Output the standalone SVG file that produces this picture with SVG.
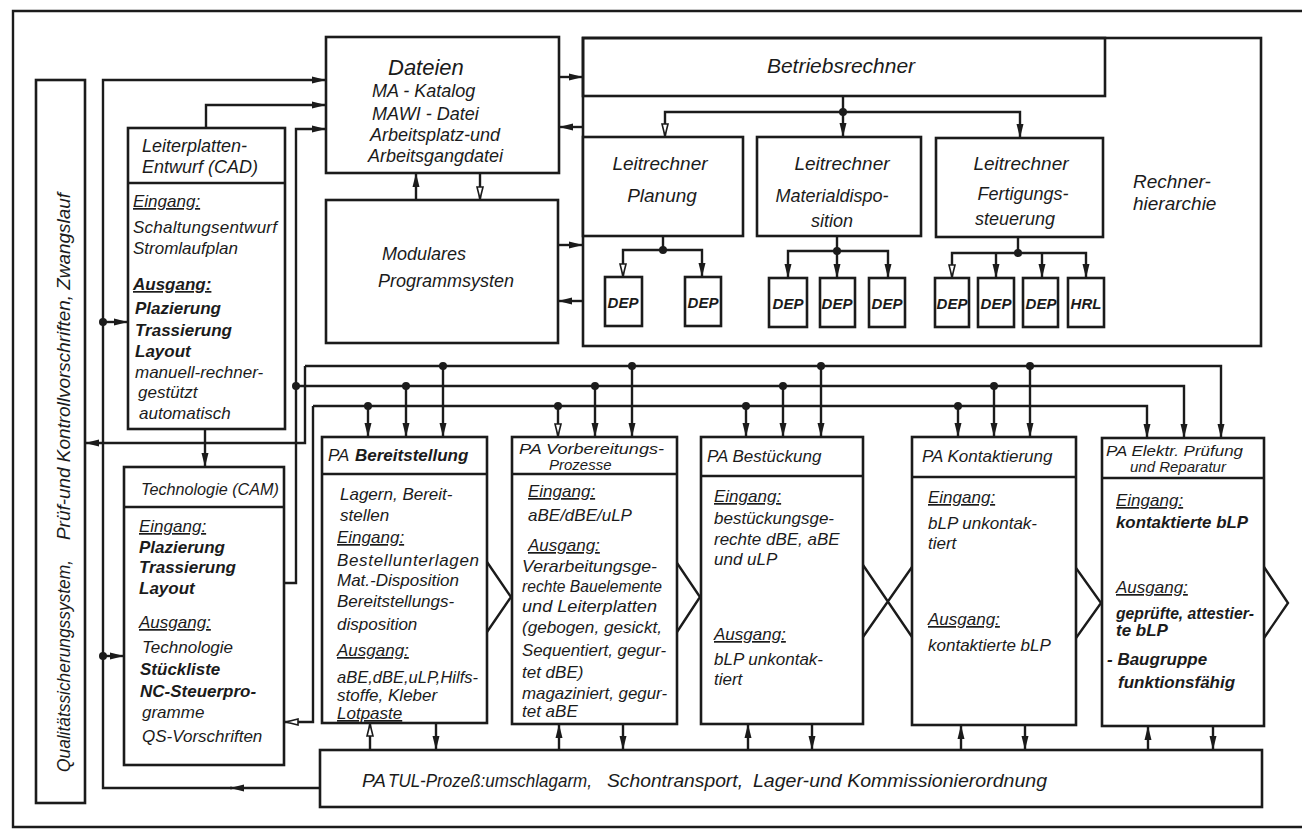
<svg xmlns="http://www.w3.org/2000/svg" width="1302" height="831" viewBox="0 0 1302 831">
<style>
.ln{fill:none;stroke:#1b1b1b;stroke-width:2.4}
.bx{fill:#fff;stroke:#1b1b1b;stroke-width:2.6}
.dv{stroke:#1b1b1b;stroke-width:2.4}
.dot{fill:#1b1b1b}
text{font-family:"Liberation Sans",Arial,sans-serif;font-style:italic;font-size:17px;fill:#1b1b1b}
.u{text-decoration:underline}
.b{font-weight:bold}
.h15{font-size:15px}
.h18{font-size:18px}
.h19{font-size:19px}
.h21{font-size:21px}
.h22{font-size:22px}
.dep{font-size:15px;font-weight:bold;text-anchor:middle}
.c{text-anchor:middle}
</style>
<defs>
<marker id="a" viewBox="0 0 14 8" refX="14" refY="4" markerWidth="14" markerHeight="8" markerUnits="userSpaceOnUse" orient="auto"><path d="M0,0.5 L14,4 L0,7.5 z" fill="#1b1b1b"/></marker>
<marker id="ah" viewBox="0 0 14 8" refX="14" refY="4" markerWidth="14" markerHeight="8" markerUnits="userSpaceOnUse" orient="auto"><path d="M1,1 L13,4 L1,7 z" fill="#fff" stroke="#1b1b1b" stroke-width="1.6"/></marker>
</defs>
<rect width="1302" height="831" fill="#fff"/>
<!-- outer frame (right edge runs off the sheet) -->
<path class="ln" d="M1302,11 H13 V827 H1302"/>

<g id="connectors">
<!-- left loop: TUL back to Dateien, feeding CAD and CAM -->
<path class="ln" d="M320,788 H230" marker-end="url(#a)"/>
<path class="ln" d="M232,788 H103 V80 H326" marker-end="url(#a)"/>
<path class="ln" d="M103,322 H128" marker-end="url(#a)"/>
<path class="ln" d="M103,656 H124" marker-end="url(#a)"/>
<circle class="dot" cx="103" cy="322" r="4"/>
<circle class="dot" cx="103" cy="656" r="4"/>
<path class="ln" d="M206,128 V105 H326" marker-end="url(#a)"/>
<path class="ln" d="M285,583 H296 V129 H326" marker-end="url(#a)"/>
<path class="ln" d="M205,429 V467" marker-end="url(#a)"/>
<!-- three process buses -->
<path class="ln" d="M305,366 H1221 V438" marker-end="url(#a)"/>
<path class="ln" d="M305,366 V443 H85" marker-end="url(#a)"/>
<path class="ln" d="M296,386 H1184 V438" marker-end="url(#a)"/>
<circle class="dot" cx="296" cy="386" r="4"/>
<path class="ln" d="M313,406 H1147 V438" marker-end="url(#a)"/>
<path class="ln" d="M313,406 V722 H285" marker-end="url(#ah)"/>
<!-- bus drops into the PA boxes -->
<path class="ln" d="M368,406 V437" marker-end="url(#a)"/>
<path class="ln" d="M406,386 V437" marker-end="url(#a)"/>
<path class="ln" d="M443,366 V437" marker-end="url(#a)"/>
<path class="ln" d="M558,406 V437" marker-end="url(#ah)"/>
<path class="ln" d="M595,386 V437" marker-end="url(#a)"/>
<path class="ln" d="M632,366 V437" marker-end="url(#a)"/>
<path class="ln" d="M746,406 V437" marker-end="url(#a)"/>
<path class="ln" d="M783,386 V437" marker-end="url(#a)"/>
<path class="ln" d="M821,366 V437" marker-end="url(#a)"/>
<path class="ln" d="M958,406 V437" marker-end="url(#a)"/>
<path class="ln" d="M994,386 V437" marker-end="url(#a)"/>
<path class="ln" d="M1030,366 V437" marker-end="url(#a)"/>
<g class="dot">
<circle cx="368" cy="406" r="4"/><circle cx="406" cy="386" r="4"/><circle cx="443" cy="366" r="4"/>
<circle cx="558" cy="406" r="4"/><circle cx="595" cy="386" r="4"/><circle cx="632" cy="366" r="4"/>
<circle cx="746" cy="406" r="4"/><circle cx="783" cy="386" r="4"/><circle cx="821" cy="366" r="4"/>
<circle cx="958" cy="406" r="4"/><circle cx="994" cy="386" r="4"/><circle cx="1030" cy="366" r="4"/>
</g>
<!-- TUL exchange arrows -->
<path class="ln" d="M370,750 V723" marker-end="url(#ah)"/>
<path class="ln" d="M436,723 V750" marker-end="url(#a)"/>
<path class="ln" d="M559,750 V724" marker-end="url(#a)"/>
<path class="ln" d="M623,724 V750" marker-end="url(#a)"/>
<path class="ln" d="M748,750 V724" marker-end="url(#a)"/>
<path class="ln" d="M812,724 V750" marker-end="url(#a)"/>
<path class="ln" d="M961,750 V725" marker-end="url(#a)"/>
<path class="ln" d="M1025,725 V750" marker-end="url(#a)"/>
<path class="ln" d="M1148,750 V726" marker-end="url(#a)"/>
<path class="ln" d="M1213,726 V750" marker-end="url(#a)"/>
<!-- files / program system / computer hierarchy -->
<path class="ln" d="M559,77 H583" marker-end="url(#a)"/>
<path class="ln" d="M583,127 H559" marker-end="url(#a)"/>
<path class="ln" d="M558,245 H583" marker-end="url(#a)"/>
<path class="ln" d="M583,301 H558" marker-end="url(#a)"/>
<path class="ln" d="M416,200 V173" marker-end="url(#a)"/>
<path class="ln" d="M480,173 V200" marker-end="url(#ah)"/>
<path class="ln" d="M843,96 V112"/>
<path class="ln" d="M843,112 H665 V137" marker-end="url(#ah)"/>
<path class="ln" d="M843,112 V137" marker-end="url(#a)"/>
<path class="ln" d="M843,112 H1020 V138" marker-end="url(#a)"/>
<circle class="dot" cx="843" cy="112" r="4"/>
<path class="ln" d="M663,236 V250"/>
<path class="ln" d="M663,250 H623 V277" marker-end="url(#ah)"/>
<path class="ln" d="M663,250 H702 V277" marker-end="url(#a)"/>
<circle class="dot" cx="663" cy="250" r="4"/>
<path class="ln" d="M837,236 V251"/>
<path class="ln" d="M837,251 H788 V278" marker-end="url(#a)"/>
<path class="ln" d="M837,251 V278" marker-end="url(#a)"/>
<path class="ln" d="M837,251 H888 V278" marker-end="url(#a)"/>
<circle class="dot" cx="837" cy="251" r="4"/>
<path class="ln" d="M1018,237 V253"/>
<path class="ln" d="M1018,253 H952 V278" marker-end="url(#ah)"/>
<path class="ln" d="M996,253 V278" marker-end="url(#a)"/>
<path class="ln" d="M1042,253 V278" marker-end="url(#a)"/>
<path class="ln" d="M1018,253 H1086 V278" marker-end="url(#a)"/>
<circle class="dot" cx="1018" cy="253" r="4"/>
<!-- flow chevrons between the process stages -->
<polyline class="ln" points="487,562 511,597 487,632"/>
<polyline class="ln" points="677,563 700,597 677,632"/>
<path class="ln" d="M863,565 L912,637 M912,567 L863,637"/>
<polyline class="ln" points="1076,568 1101,603 1076,638"/>
<polyline class="ln" points="1264,567 1288,603 1264,638"/>
</g>

<g id="qs">
<rect class="bx" x="36" y="80" width="49" height="723"/>
<text class="h18" transform="rotate(-90)" x="-772" y="70" textLength="212" lengthAdjust="spacingAndGlyphs">Qualitätssicherungssystem,</text>
<text class="h18" transform="rotate(-90)" x="-540" y="70" textLength="347" lengthAdjust="spacingAndGlyphs">Prüf-und Kontrollvorschriften, Zwangslauf</text>
</g>

<g id="cad">
<rect class="bx" x="128" y="128" width="157" height="301"/>
<line class="dv" x1="128" y1="183" x2="285" y2="183"/>
<text class="h18" x="142" y="152">Leiterplatten-</text>
<text class="h18" x="142" y="173">Entwurf (CAD)</text>
<text class="u" x="133" y="207">Eingang:</text>
<text x="133" y="233" textLength="144">Schaltungsentwurf</text>
<text x="133" y="254">Stromlaufplan</text>
<text class="u b" x="133" y="290">Ausgang:</text>
<text class="b" x="135" y="314">Plazierung</text>
<text class="b" x="135" y="336">Trassierung</text>
<text class="b" x="135" y="357">Layout</text>
<text x="135" y="378">manuell-rechner-</text>
<text x="138" y="398">gestützt</text>
<text x="139" y="419">automatisch</text>
</g>

<g id="cam">
<rect class="bx" x="124" y="467" width="160" height="298"/>
<line class="dv" x1="124" y1="507" x2="284" y2="507"/>
<text x="141" y="495" textLength="138" lengthAdjust="spacingAndGlyphs">Technologie (CAM)</text>
<text class="u" x="139" y="532">Eingang:</text>
<text class="b" x="139" y="553">Plazierung</text>
<text class="b" x="139" y="573">Trassierung</text>
<text class="b" x="139" y="594">Layout</text>
<text class="u" x="139" y="628">Ausgang:</text>
<text x="142" y="653">Technologie</text>
<text class="b" x="140" y="675">Stückliste</text>
<text class="b" x="140" y="697">NC-Steuerpro-</text>
<text x="142" y="718">gramme</text>
<text x="142" y="742">QS-Vorschriften</text>
</g>

<g id="dateien">
<rect class="bx" x="326" y="37" width="233" height="136"/>
<text class="h22" x="388" y="75">Dateien</text>
<text class="h18" x="372" y="97">MA - Katalog</text>
<text class="h18" x="372" y="120">MAWI - Datei</text>
<text class="h18" x="370" y="141">Arbeitsplatz-und</text>
<text class="h18" x="368" y="162">Arbeitsgangdatei</text>
</g>

<g id="modulares">
<rect class="bx" x="326" y="200" width="232" height="143"/>
<text class="h18" x="382" y="260">Modulares</text>
<text class="h18" x="378" y="287">Programmsysten</text>
</g>

<g id="rechnerhierarchie">
<rect class="ln" x="583" y="38" width="678" height="308" style="stroke-width:2.6"/>
<text class="h19" x="1133" y="188">Rechner-</text>
<text class="h19" x="1133" y="210">hierarchie</text>
</g>

<g id="betriebsrechner">
<rect class="ln" x="583" y="38" width="522" height="58" style="stroke-width:2.6"/>
<text class="h21 c" x="841" y="73">Betriebsrechner</text>
</g>

<g id="lr-planung">
<rect class="bx" x="583" y="137" width="160" height="99"/>
<text class="h19 c" x="660" y="170">Leitrechner</text>
<text class="h19 c" x="662" y="202">Planung</text>
</g>

<g id="lr-material">
<rect class="bx" x="757" y="137" width="164" height="99"/>
<text class="h19 c" x="842" y="170">Leitrechner</text>
<text class="h18 c" x="832" y="202">Materialdispo-</text>
<text class="h18 c" x="832" y="227">sition</text>
</g>

<g id="lr-fertigung">
<rect class="bx" x="936" y="138" width="167" height="99"/>
<text class="h19 c" x="1021" y="170">Leitrechner</text>
<text class="h18 c" x="1023" y="200">Fertigungs-</text>
<text class="h18 c" x="1015" y="225">steuerung</text>
</g>

<g id="dep-terminals">
<g id="dep-p1"><rect class="bx" x="605" y="277" width="37" height="49"/><text class="dep" x="623" y="308">DEP</text></g>
<g id="dep-p2"><rect class="bx" x="685" y="277" width="36" height="49"/><text class="dep" x="703" y="308">DEP</text></g>
<g id="dep-m1"><rect class="bx" x="769" y="278" width="38" height="49"/><text class="dep" x="788" y="309">DEP</text></g>
<g id="dep-m2"><rect class="bx" x="820" y="278" width="35" height="49"/><text class="dep" x="837" y="309">DEP</text></g>
<g id="dep-m3"><rect class="bx" x="869" y="278" width="36" height="49"/><text class="dep" x="887" y="309">DEP</text></g>
<g id="dep-f1"><rect class="bx" x="935" y="278" width="34" height="49"/><text class="dep" x="952" y="309">DEP</text></g>
<g id="dep-f2"><rect class="bx" x="978" y="278" width="36" height="49"/><text class="dep" x="996" y="309">DEP</text></g>
<g id="dep-f3"><rect class="bx" x="1023" y="278" width="35" height="49"/><text class="dep" x="1041" y="309">DEP</text></g>
<g id="hrl"><rect class="bx" x="1068" y="278" width="36" height="49"/><text class="dep" x="1086" y="309">HRL</text></g>
</g>

<g id="pa-bereitstellung">
<rect class="bx" x="322" y="437" width="165" height="286"/>
<line class="dv" x1="322" y1="474" x2="487" y2="474"/>
<text x="328" y="461">PA</text>
<text class="b" x="355" y="461">Bereitstellung</text>
<text x="340" y="500">Lagern, Bereit-</text>
<text x="340" y="521">stellen</text>
<text class="u" x="337" y="543">Eingang:</text>
<text x="337" y="566" textLength="142">Bestellunterlagen</text>
<text x="337" y="586">Mat.-Disposition</text>
<text x="337" y="607">Bereitstellungs-</text>
<text x="337" y="630">disposition</text>
<text class="u" x="337" y="656">Ausgang:</text>
<text x="337" y="683" textLength="141" lengthAdjust="spacingAndGlyphs">aBE,dBE,uLP,Hilfs-</text>
<text x="337" y="701">stoffe, Kleber</text>
<text class="u" x="337" y="719">Lotpaste</text>
</g>

<g id="pa-vorbereitung">
<rect class="bx" x="512" y="437" width="165" height="287"/>
<line class="dv" x1="512" y1="474" x2="677" y2="474"/>
<text class="h15" x="519" y="454" textLength="145" lengthAdjust="spacingAndGlyphs">PA Vorbereitungs-</text>
<text class="h15" x="549" y="470">Prozesse</text>
<text class="u" x="528" y="497">Eingang:</text>
<text x="528" y="521">aBE/dBE/uLP</text>
<text class="u" x="528" y="551">Ausgang:</text>
<text x="522" y="572" textLength="135" lengthAdjust="spacingAndGlyphs">Verarbeitungsge-</text>
<text x="522" y="592" textLength="140" lengthAdjust="spacingAndGlyphs">rechte Bauelemente</text>
<text x="522" y="612" textLength="135" lengthAdjust="spacingAndGlyphs">und Leiterplatten</text>
<text x="522" y="633" textLength="140" lengthAdjust="spacingAndGlyphs">(gebogen, gesickt,</text>
<text x="522" y="656" textLength="144" lengthAdjust="spacingAndGlyphs">Sequentiert, gegur-</text>
<text x="522" y="678">tet dBE)</text>
<text x="522" y="699" textLength="145" lengthAdjust="spacingAndGlyphs">magaziniert, gegur-</text>
<text x="522" y="717">tet aBE</text>
</g>

<g id="pa-bestueckung">
<rect class="bx" x="701" y="437" width="162" height="287"/>
<line class="dv" x1="701" y1="476" x2="863" y2="476"/>
<text x="707" y="462">PA Bestückung</text>
<text class="u" x="714" y="502">Eingang:</text>
<text x="714" y="524">bestückungsge-</text>
<text x="714" y="545">rechte dBE, aBE</text>
<text x="714" y="565">und uLP</text>
<text class="u" x="714" y="640">Ausgang:</text>
<text x="714" y="665">bLP unkontak-</text>
<text x="714" y="685">tiert</text>
</g>

<g id="pa-kontaktierung">
<rect class="bx" x="912" y="437" width="164" height="288"/>
<line class="dv" x1="912" y1="477" x2="1076" y2="477"/>
<text x="922" y="462">PA Kontaktierung</text>
<text class="u" x="928" y="503">Eingang:</text>
<text x="928" y="529">bLP unkontak-</text>
<text x="928" y="549">tiert</text>
<text class="u" x="928" y="625">Ausgang:</text>
<text x="928" y="651">kontaktierte bLP</text>
</g>

<g id="pa-pruefung">
<rect class="bx" x="1102" y="438" width="162" height="288"/>
<line class="dv" x1="1102" y1="478" x2="1264" y2="478"/>
<text class="h15" x="1106" y="456" textLength="137" lengthAdjust="spacingAndGlyphs">PA Elektr. Prüfung</text>
<text class="h15" x="1130" y="472">und Reparatur</text>
<text class="u" x="1116" y="506">Eingang:</text>
<text class="b" x="1116" y="528" textLength="132" lengthAdjust="spacingAndGlyphs">kontaktierte bLP</text>
<text class="u" x="1116" y="593">Ausgang:</text>
<text class="b" x="1116" y="619" textLength="138" lengthAdjust="spacingAndGlyphs">geprüfte, attestier-</text>
<text class="b" x="1116" y="636">te bLP</text>
<text class="b" x="1107" y="665">- Baugruppe</text>
<text class="b" x="1118" y="688">funktionsfähig</text>
</g>

<g id="pa-tul">
<rect class="bx" x="320" y="750" width="942" height="57"/>
<text class="h19" x="362" y="787">PA</text>
<text class="h19" x="388" y="787" textLength="204" lengthAdjust="spacingAndGlyphs">TUL-Prozeß:umschlagarm,</text>
<text class="h19" x="607" y="787" textLength="136" lengthAdjust="spacingAndGlyphs">Schontransport,</text>
<text class="h19" x="753" y="787" textLength="294" lengthAdjust="spacingAndGlyphs">Lager-und Kommissionierordnung</text>
</g>
</svg>
